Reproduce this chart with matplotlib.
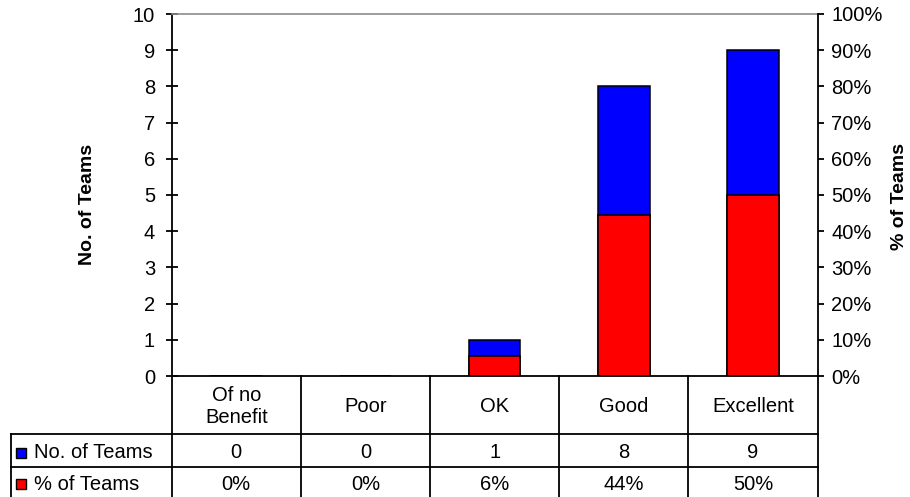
import matplotlib
matplotlib.use("Agg")
import matplotlib.pyplot as plt
from matplotlib.lines import Line2D

plt.rcParams['font.family'] = ['Liberation Sans', 'DejaVu Sans']

# Data
categories = ["Of no\nBenefit", "Poor", "OK", "Good", "Excellent"]
no_of_teams = [0, 0, 1, 8, 9]
pct_of_teams = [0.0, 0.0, 5.6, 44.4, 50.0]
series_names = ["No. of Teams", "% of Teams"]
series_colors = ["#0000FF", "#FF0000"]
left_ticks = list(range(0, 11))
right_ticks = list(range(0, 101, 10))

W, H = 910, 497
fig = plt.figure(figsize=(W / 100, H / 100), dpi=100)

# plot area in pixels
px_left, px_right, px_top, px_bottom = 171.7, 817.5, 14.0, 376.0
ax = fig.add_axes([px_left / W, (H - px_bottom) / H,
                   (px_right - px_left) / W, (px_bottom - px_top) / H])
ax2 = ax.twinx()

x = list(range(len(categories)))
bar_w = 0.40
lw_edge = 1.1
ax.bar(x, no_of_teams, width=bar_w, color=series_colors[0],
       edgecolor="black", linewidth=lw_edge, zorder=2)
ax2.bar(x, pct_of_teams, width=bar_w, color=series_colors[1],
        edgecolor="black", linewidth=lw_edge, zorder=3)

ax.set_xlim(-0.5, len(categories) - 0.5)
ax.set_ylim(0, 10)
ax2.set_ylim(0, 100)
ax.set_yticks(left_ticks)
ax2.set_yticks(right_ticks)
ax2.set_yticklabels([f"{t}%" for t in right_ticks])
ax.set_xticks([])
ax2.set_xticks([])

fs = 14.5
spine_lw = 1.3
ax.tick_params(axis='y', direction='inout', length=9, width=spine_lw,
               pad=7.5, labelsize=fs)
ax2.tick_params(axis='y', direction='out', length=4.5, width=spine_lw,
                pad=5.5, labelsize=fs)

for s in ["left", "bottom"]:
    ax.spines[s].set_linewidth(spine_lw)
    ax.spines[s].set_color("black")
ax.spines["top"].set_color("#8c8c8c")
ax.spines["top"].set_linewidth(1.2)
ax.spines["right"].set_visible(False)
for s in ["top", "left", "bottom"]:
    ax2.spines[s].set_visible(False)
ax2.spines["right"].set_linewidth(spine_lw)
ax2.spines["right"].set_color("black")

# axis titles
fig.text(87 / W, (H - 204) / H, "No. of Teams", rotation=90, fontsize=14,
         fontweight="bold", ha="center", va="center")
fig.text(900 / W, (H - 196) / H, "% of Teams", rotation=90, fontsize=14,
         fontweight="bold", ha="center", va="center")

# data table below the plot
px_per_unit = (px_right - px_left) / len(categories)


def xd(px):
    return -0.5 + (px - px_left) / px_per_unit


def ya(py):
    return (px_bottom - py) / (px_bottom - px_top)


tr = ax.get_xaxis_transform()
row1_top, row2_top, table_bottom = 434.3, 466.7, 497.5
table_left = 11.0


def seg(x0, x1, y0, y1):
    ax.add_line(Line2D([x0, x1], [y0, y1], transform=tr, color="black",
                       linewidth=spine_lw, clip_on=False, zorder=5))


# vertical lines at category boundaries
for i in range(len(categories) + 1):
    xb = i - 0.5
    seg(xb, xb, ya(px_bottom), ya(table_bottom))
seg(xd(table_left), xd(table_left), ya(row1_top), ya(table_bottom))
# horizontal lines
seg(xd(table_left), len(categories) - 0.5, ya(row1_top), ya(row1_top))
seg(xd(table_left), len(categories) - 0.5, ya(row2_top), ya(row2_top))

header_y = ya((px_bottom + row1_top) / 2 + 1.5)
row1_y = ya((row1_top + row2_top) / 2 + 2.5)
row2_y = ya((row2_top + 497) / 2 + 2.5)

for i, cat in enumerate(categories):
    ax.text(i, header_y, cat, transform=tr, ha="center", va="center",
            fontsize=fs, linespacing=1.2, clip_on=False)
    ax.text(i, row1_y, f"{no_of_teams[i]}", transform=tr, ha="center",
            va="center", fontsize=fs, clip_on=False)
    ax.text(i, row2_y, f"{pct_of_teams[i]:.0f}%", transform=tr, ha="center",
            va="center", fontsize=fs, clip_on=False)

# row headers with legend keys
for name, color, yy in zip(series_names, series_colors, [row1_y, row2_y]):
    ax.add_line(Line2D([xd(21)], [yy], transform=tr, marker="s",
                       markersize=6.5, markerfacecolor=color,
                       markeredgecolor="black", markeredgewidth=1.0,
                       linestyle="none", clip_on=False, zorder=6))
    ax.text(xd(34), yy, name, transform=tr, ha="left", va="center",
            fontsize=fs, clip_on=False)

fig.savefig("out.png", dpi=100)
